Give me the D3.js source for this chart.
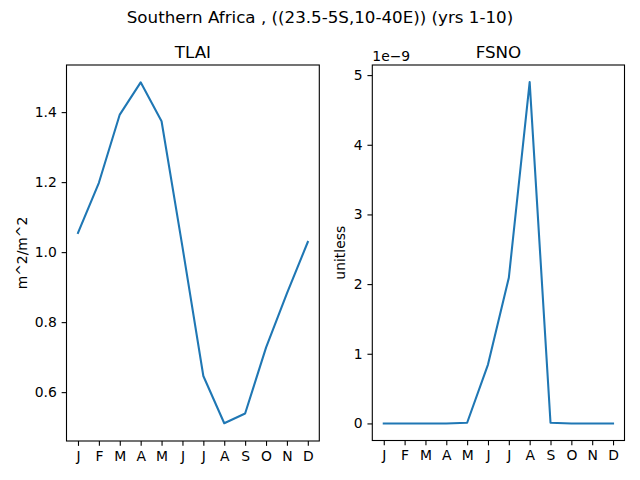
<!DOCTYPE html>
<html><head><meta charset="utf-8">
<script src="https://cdn.jsdelivr.net/npm/d3@7"></script>
<style>body{margin:0;background:#fff}svg{display:block}text{font-family:"DejaVu Sans",sans-serif;fill:#000}</style>
</head><body>
<script>
const months = ["J","F","M","A","M","J","J","A","S","O","N","D"];
const tlai = [1.055, 1.198, 1.393, 1.485, 1.374, 1.015, 0.646, 0.511, 0.539, 0.727, 0.882, 1.029];
const fsno = [0.0, 0.0, 0.0, 0.0, 0.01, 0.845, 2.09, 4.90, 0.01, 0.0, 0.0, 0.0]; // x1e-9
const tlaiTicks = [0.6, 0.8, 1.0, 1.2, 1.4];
const fsnoTicks = [0, 1, 2, 3, 4, 5];
const suptitle = "Southern Africa , ((23.5-5S,10-40E)) (yrs 1-10)";

const W = 640, H = 480;
const svg = d3.select("body").append("svg").attr("width", W).attr("height", H);

svg.append("text").attr("x", 320).attr("y", 22.7).attr("text-anchor", "middle")
  .style("font-size", "16.7px").text(suptitle);

function panel(opts) {
  const {x0, x1, y0, y1, data, domain, ticks, fmt, title, ylabel, ylabelX, offset} = opts;
  const xs = d3.scaleLinear().domain([-0.55, 11.55]).range([x0, x1]);
  const ys = d3.scaleLinear().domain(domain).range([y1, y0]);
  const g = svg.append("g");
  const line = d3.line().x((d, i) => xs(i)).y(d => ys(d));
  g.append("path").datum(data).attr("d", line).attr("fill", "none")
    .attr("stroke", "#1f77b4").attr("stroke-width", 2.08).attr("stroke-linejoin", "round").attr("stroke-linecap", "square");
  const xa = g.append("g").attr("transform", `translate(0,${y1})`)
    .call(d3.axisBottom(xs).tickValues(d3.range(12)).tickFormat(i => months[i]).tickSize(4.86).tickPadding(4.86));
  const ya = g.append("g").attr("transform", `translate(${x0},0)`)
    .call(d3.axisLeft(ys).tickValues(ticks).tickFormat(fmt).tickSize(4.86).tickPadding(4.86));
  [xa, ya].forEach(a => {
    a.select(".domain").remove();
    a.selectAll(".tick line").attr("stroke", "#000").attr("stroke-width", 1.1);
    a.selectAll(".tick text").style("font-size", "13.9px").attr("fill", "#000").style("font-family", "'DejaVu Sans',sans-serif");
  });
  g.append("rect").attr("x", x0).attr("y", y0).attr("width", x1 - x0).attr("height", y1 - y0)
    .attr("fill", "none").attr("stroke", "#000").attr("stroke-width", 1.1);
  g.append("text").attr("x", (x0 + x1) / 2).attr("y", y0 - 7).attr("text-anchor", "middle")
    .style("font-size", "16.7px").text(title);
  g.append("text").attr("transform", `translate(${ylabelX},${(y0 + y1) / 2}) rotate(-90)`)
    .attr("text-anchor", "middle").style("font-size", "13.9px").text(ylabel);
  if (offset) g.append("text").attr("x", x0).attr("y", y0 - 4).style("font-size", "13.9px").text(offset);
}

panel({x0: 66.5, x1: 319.3, y0: 65, y1: 441, data: tlai, domain: [0.4604, 1.5346],
  ticks: tlaiTicks, fmt: d3.format(".1f"), title: "TLAI", ylabel: "m^2/m^2", ylabelX: 27});
panel({x0: 372.3, x1: 624.5, y0: 65, y1: 440.5, data: fsno, domain: [-0.245, 5.145],
  ticks: fsnoTicks, fmt: d3.format("d"), title: "FSNO", ylabel: "unitless", ylabelX: 345, offset: "1e\u22129"});
</script>
</body></html>
